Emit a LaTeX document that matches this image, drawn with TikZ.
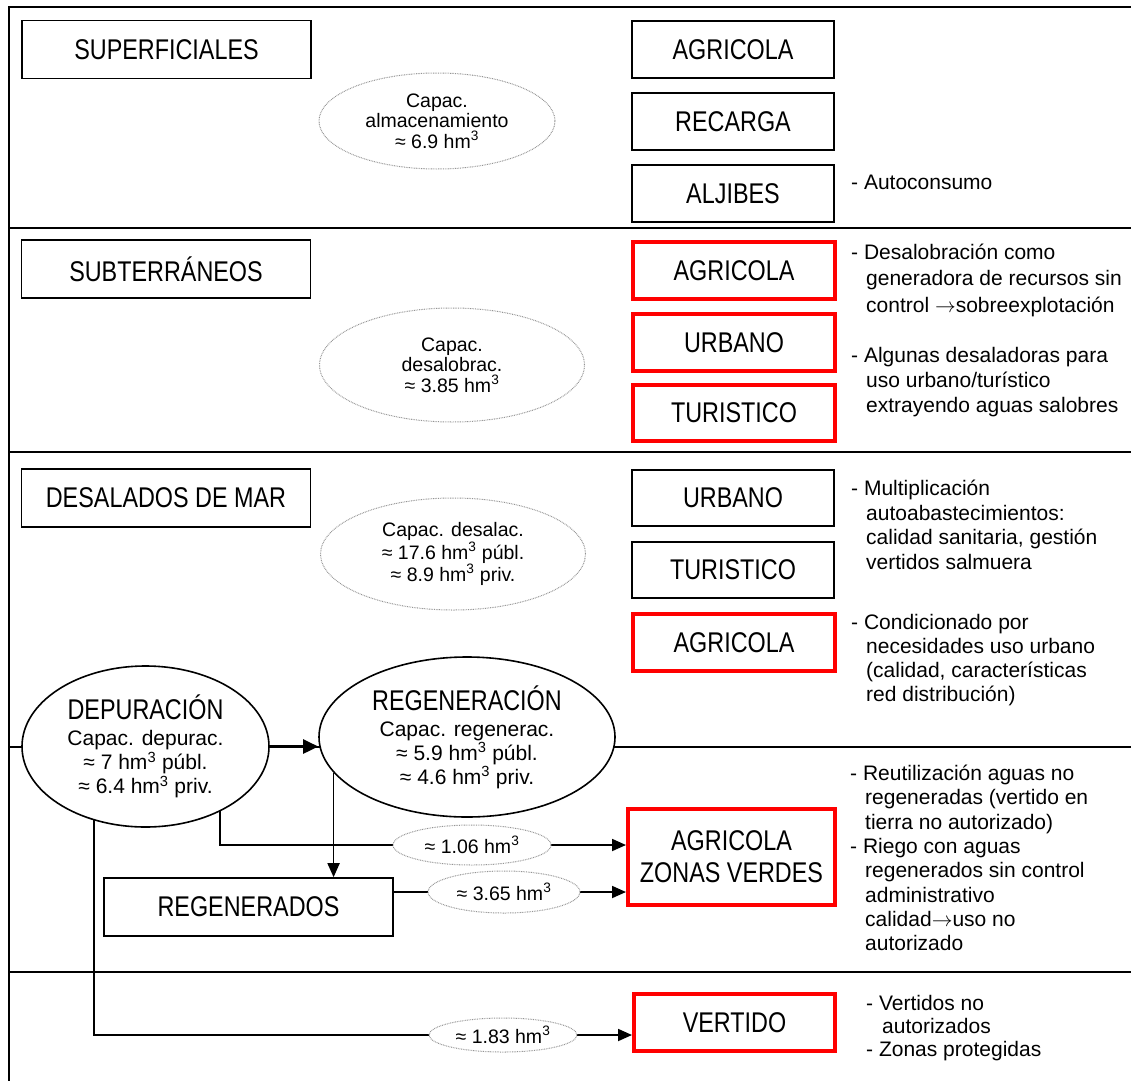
\documentclass[tikz,border=0pt]{standalone}
\usepackage{fontspec}
\setmainfont{Liberation Sans}
\newfontfamily\narrowfont[FakeStretch=0.82]{Liberation Sans}
\usetikzlibrary{shapes.geometric,arrows.meta}
\pgfdeclarelayer{bg}
\pgfsetlayers{bg,main}
\newcommand\myind{\hspace*{15pt}}
\newcommand\cub{\textsuperscript{3}}
\newcommand\myarr{\ensuremath{\rightarrow}}
\begin{document}
\begin{tikzpicture}[x=1pt,y=-1pt,
 lab/.style={font=\fontsize{28.5}{32}\narrowfont},
 bbox/.style={draw, line width=1.6pt, lab, inner sep=0, minimum height=57, minimum width=202},
 rbox/.style={draw=red, line width=4pt, lab, inner sep=0, minimum height=57, minimum width=202},
 sbox/.style={bbox, minimum width=289, minimum height=58},
 dell/.style={ellipse, draw=gray!85, line width=1pt, dash pattern=on 0.8pt off 0.9pt, fill=white, inner sep=0, align=center, font=\fontsize{19.5}{20.5}\selectfont},
 sell/.style={ellipse, draw, line width=1.6pt, fill=white, inner sep=0, align=center, font=\fontsize{21}{24}\selectfont},
 note/.style={anchor=west, inner sep=0, align=left, font=\fontsize{21}{24.5}\selectfont},
 conn/.style={line width=1.8pt, -{Triangle[length=14pt,width=12pt]}},
 sepline/.style={line width=2pt},
]
\useasboundingbox (0,0) rectangle (1131,1081);

% left column
\node[sbox] (sup) at (166.5,49.5) {SUPERFICIALES};
\node[sbox] (sub) at (166,269) {SUBTERRÁNEOS};
\node[sbox] (des) at (166,498) {DESALADOS DE MAR};
\node[sbox] (regd) at (248.5,907) {REGENERADOS};

% right column, black
\node[bbox] (agr1) at (733,49.5) {AGRICOLA};
\node[bbox] (rec) at (733,121.5) {RECARGA};
\node[bbox] (alj) at (733,193.5) {ALJIBES};
\node[bbox, minimum height=56] (urb2) at (733,498) {URBANO};
\node[bbox, minimum height=56] (tur2) at (733,570) {TURISTICO};

% right column, red
\node[rbox] (agr2) at (734,270.5) {AGRICOLA};
\node[rbox] (urb1) at (734,342.5) {URBANO};
\node[rbox, minimum height=56] (tur1) at (734,413) {TURISTICO};
\node[rbox] (agr3) at (734,642.5) {AGRICOLA};
\node[rbox, minimum width=207, minimum height=96, align=center] (azv) at (731.5,857) {AGRICOLA\\ZONAS VERDES};
\node[rbox, minimum width=201] (vert) at (734.5,1022.5) {VERTIDO};

% capacity ellipses
\node[dell, minimum width=236, minimum height=96] (ealm) at (437,121) {Capac.\\almacenamiento\\≈ 6.9 hm\cub};
\node[dell, minimum width=265, minimum height=114] (edsb) at (452,365) {Capac.\\desalobrac.\\≈ 3.85 hm\cub};
\node[dell, minimum width=265, minimum height=112] (edsl) at (453,554) {Capac. desalac.\\≈ 17.6 hm\cub{} públ.\\≈ 8.9 hm\cub{} priv.};

\node[sell, minimum width=247, minimum height=161] (dep) at (145.5,746.5) {{\fontsize{28.5}{30}\narrowfont DEPURACIÓN}\\[2pt]Capac. depurac.\\≈ 7 hm\cub{} públ.\\≈ 6.4 hm\cub{} priv.};
\node[sell, minimum width=296, minimum height=160] (reg) at (467,737) {{\fontsize{28.5}{30}\narrowfont REGENERACIÓN}\\[2pt]Capac. regenerac.\\≈ 5.9 hm\cub{} públ.\\≈ 4.6 hm\cub{} priv.};

% flow labels
\node[dell, minimum width=158, minimum height=40] (e106) at (472,845) {≈ 1.06 hm\cub};
\node[dell, minimum width=152, minimum height=42] (e365) at (504,892) {≈ 3.65 hm\cub};
\node[dell, minimum width=148, minimum height=34] (e183) at (503,1035) {≈ 1.83 hm\cub};

% notes
\node[note] (n1) at (851,182) {- Autoconsumo};
\node[note, font=\fontsize{21}{26.5}\selectfont] (n2) at (851,280) {- Desalobración como\\\myind generadora de recursos sin\\\myind control \myarr sobreexplotación};
\node[note, font=\fontsize{21}{25}\selectfont] (n3) at (851,382) {- Algunas desaladoras para\\\myind uso urbano/turístico\\\myind extrayendo aguas salobres};
\node[note] (n4) at (851,525) {- Multiplicación\\\myind autoabastecimientos:\\\myind calidad sanitaria, gestión\\\myind vertidos salmuera};
\node[note, font=\fontsize{21}{24}\selectfont] (n5) at (851,660) {- Condicionado por\\\myind necesidades uso urbano\\\myind (calidad, características\\\myind red distribución)};
\node[note, font=\fontsize{21}{24.3}\selectfont] (n6) at (850,858) {- Reutilización aguas no\\\myind regeneradas (vertido en\\\myind tierra no autorizado)\\- Riego con aguas\\\myind regenerados sin control\\\myind administrativo\\\myind calidad\myarr uso no\\\myind autorizado};
\node[note, font=\fontsize{21}{23}\selectfont] (n7) at (866,1028) {- Vertidos no\\\hspace*{16pt}autorizados\\- Zonas protegidas};

\begin{pgfonlayer}{bg}
 % frame and separators
 \draw[sepline] (1131,7) -- (9,7) -- (9,1081);
 \draw[sepline] (9,228) -- (1131,228);
 \draw[sepline] (9,452) -- (1131,452);
 \draw[sepline] (9,746.5) -- (1131,746.5);
 \draw[sepline] (9,972) -- (1131,972);
 % connectors
 \draw[conn, line width=2.6pt, -{Triangle[length=15pt,width=14pt]}] (dep.east) -- (dep.east -| reg.west);
 \draw[conn] (reg.195) -- (reg.195 |- regd.north);
 \draw[conn] (dep.319) |- (azv.west |- e106);
 \draw[conn] (regd.east |- e365) -- (azv.west |- e365);
 \draw[conn] (dep.235) |- (vert.west |- e183);
\end{pgfonlayer}
\end{tikzpicture}
\end{document}
